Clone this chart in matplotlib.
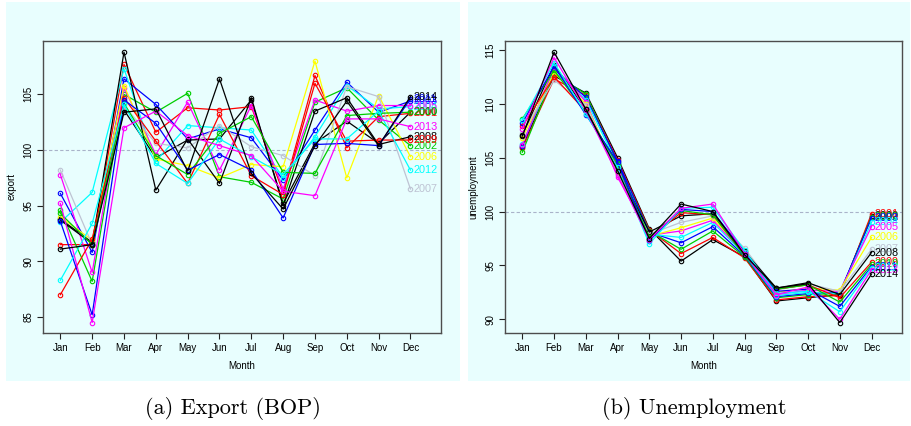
import matplotlib
matplotlib.use("Agg")
import matplotlib.pyplot as plt
from matplotlib.patches import Rectangle

months = ["Jan", "Feb", "Mar", "Apr", "May", "Jun",
          "Jul", "Aug", "Sep", "Oct", "Nov", "Dec"]
years = list(range(2000, 2015))
year_colors = ["black", "red", "#00cd00", "blue", "cyan", "magenta", "yellow",
               "#bec3d3", "black", "red", "#00cd00", "blue", "cyan", "magenta",
               "black"]

# export (BOP) seasonal index, one row per year, Jan..Dec
export = [
    [93.8, 91.7, 103.6, 99.3, 100.9, 101.0, 104.5, 95.2, 100.6, 102.6, 100.6, 103.4],   # 2000
    [91.5, 91.5, 107.7, 101.6, 103.8, 103.6, 103.9, 96.2, 106.7, 100.2, 103.0, 103.3],  # 2001
    [94.6, 88.2, 105.0, 103.4, 105.1, 97.6, 97.1, 95.6, 104.3, 105.6, 102.7, 100.4],    # 2002
    [96.1, 90.8, 106.4, 104.1, 101.0, 101.9, 101.1, 97.3, 101.8, 106.1, 103.4, 104.4],  # 2003
    [93.5, 96.2, 107.3, 99.0, 102.2, 102.0, 101.8, 97.5, 101.2, 105.8, 103.7, 103.9],   # 2004
    [97.8, 89.0, 105.6, 99.6, 104.3, 98.2, 104.0, 96.5, 104.5, 103.5, 104.0, 104.0],    # 2005
    [94.0, 91.9, 105.8, 99.2, 98.6, 97.5, 98.7, 98.5, 108.0, 97.5, 104.9, 99.4],        # 2006
    [98.2, 91.5, 104.0, 100.6, 100.2, 102.2, 100.3, 99.5, 97.7, 105.7, 104.8, 96.5],    # 2007
    [93.7, 91.6, 108.8, 96.4, 101.0, 97.0, 104.7, 95.0, 103.5, 104.7, 100.5, 101.2],    # 2008
    [87.0, 92.0, 104.7, 100.8, 97.0, 103.2, 97.7, 96.0, 106.0, 100.8, 100.9, 100.9],    # 2009
    [94.3, 91.5, 104.2, 99.5, 97.8, 101.5, 103.0, 98.0, 97.9, 103.1, 103.3, 103.4],     # 2010
    [93.6, 85.2, 104.5, 102.4, 98.2, 99.6, 98.2, 93.9, 100.5, 100.6, 100.4, 104.6],     # 2011
    [88.3, 93.4, 104.1, 98.8, 97.0, 101.0, 99.4, 97.8, 101.0, 101.0, 103.5, 98.2],      # 2012
    [95.2, 84.5, 102.0, 103.5, 101.3, 100.4, 99.5, 96.3, 95.9, 102.8, 102.8, 102.1],    # 2013
    [91.1, 91.5, 103.4, 103.7, 98.1, 106.4, 97.9, 94.7, 100.4, 104.4, 100.4, 104.8],    # 2014
]

# unemployment seasonal index, one row per year, Jan..Dec
unemployment = [
    [106.0, 112.6, 111.0, 105.0, 98.4, 95.4, 97.4, 95.8, 91.7, 92.0, 92.3, 99.6],   # 2000
    [105.9, 112.3, 110.8, 104.8, 98.3, 96.1, 97.6, 95.7, 91.8, 92.1, 92.2, 99.8],   # 2001
    [105.5, 112.8, 110.9, 104.5, 98.2, 96.5, 98.2, 95.8, 92.0, 92.3, 92.4, 99.5],   # 2002
    [106.1, 113.2, 110.6, 104.7, 98.1, 97.1, 98.6, 95.9, 92.1, 92.4, 92.5, 99.4],   # 2003
    [106.3, 113.0, 110.4, 104.3, 97.9, 97.6, 99.0, 96.0, 92.2, 92.5, 92.4, 99.0],   # 2004
    [106.2, 113.4, 110.2, 103.2, 97.8, 98.2, 99.2, 96.1, 92.3, 92.7, 92.6, 98.6],   # 2005
    [106.8, 112.9, 110.0, 103.6, 97.7, 98.5, 99.4, 96.2, 92.5, 92.9, 92.7, 97.6],   # 2006
    [107.3, 112.2, 109.9, 103.5, 97.9, 99.0, 99.6, 96.6, 92.7, 93.3, 92.6, 96.5],   # 2007
    [107.1, 113.6, 109.5, 104.0, 98.1, 99.6, 99.8, 96.3, 92.9, 93.4, 92.3, 96.2],   # 2008
    [107.9, 112.5, 109.3, 104.2, 97.5, 99.9, 99.7, 96.0, 92.8, 93.2, 92.0, 95.3],   # 2009
    [108.6, 113.1, 109.2, 104.4, 97.6, 100.1, 99.7, 95.9, 92.8, 93.2, 91.6, 95.1],  # 2010
    [108.2, 113.5, 109.0, 104.6, 97.3, 100.2, 100.0, 96.2, 92.6, 92.8, 91.2, 94.9], # 2011
    [108.5, 113.8, 109.1, 104.1, 97.0, 100.3, 100.4, 96.4, 92.4, 92.6, 90.7, 94.8], # 2012
    [107.7, 114.3, 109.4, 103.4, 97.4, 100.3, 100.7, 96.1, 92.3, 93.0, 90.0, 94.6], # 2013
    [107.0, 114.8, 109.5, 103.8, 97.5, 100.7, 100.0, 96.0, 92.9, 93.3, 89.7, 94.2], # 2014
]

export_yticks = [85, 90, 95, 100, 105]
unemp_yticks = [90, 95, 100, 105, 110, 115]

BG = "#e8fefe"
SPINE = "#4d4d4d"
plt.rcParams["font.family"] = ["Liberation Sans", "DejaVu Sans"]

fig = plt.figure(figsize=(9.12, 4.26), dpi=100)
W, H = 912, 426


def px_rect(x0, y0, x1, y1):
    return [x0 / W, 1 - y1 / H, (x1 - x0) / W, (y1 - y0) / H]


for (x0, x1) in [(6, 460), (468, 910)]:
    r = px_rect(x0, 2, x1, 381)
    fig.patches.append(Rectangle((r[0], r[1]), r[2], r[3], transform=fig.transFigure,
                                 facecolor=BG, edgecolor="none", zorder=-5))


def season_panel(ax, data, ylabel, yticks, ylim):
    ax.set_facecolor(BG)
    x = range(1, 13)
    for yr, vals, col in zip(years, data, year_colors):
        ax.plot(x, vals, color=col, lw=0.9, marker="o", ms=3.2, mfc="none",
                mew=0.8, zorder=3)
        ax.text(12.1, vals[-1], str(yr), color=col, fontsize=7.8, ha="left",
                va="center", zorder=4)
    ax.axhline(100, color="#a9b3c9", lw=0.8, ls=(0, (3, 2)), zorder=1)
    ax.set_xlim(0.455, 12.96)
    ax.set_ylim(*ylim)
    ax.set_xticks(list(x))
    ax.set_xticklabels(months, fontsize=7)
    ax.set_yticks(yticks)
    ax.set_yticklabels([str(t) for t in yticks], fontsize=7, rotation=90,
                       va="center")
    ax.tick_params(length=4, width=0.8, color="#222222", pad=3)
    ax.set_xlabel("Month", fontsize=7, labelpad=6)
    ax.set_ylabel(ylabel, fontsize=7, labelpad=5)
    for s in ax.spines.values():
        s.set_color(SPINE)
        s.set_linewidth(1.0)


ax1 = fig.add_axes(px_rect(43, 41, 441, 333))
season_panel(ax1, export, "export", export_yticks, (83.56, 109.8))
ax2 = fig.add_axes(px_rect(505, 41, 902, 333))
season_panel(ax2, unemployment, "unemployment", unemp_yticks, (88.73, 115.83))

fig.text(233 / W, 1 - 409 / H, "(a) Export (BOP)", family="cmr10", fontsize=16,
         ha="center", va="center")
fig.text(694 / W, 1 - 409 / H, "(b) Unemployment", family="cmr10", fontsize=16,
         ha="center", va="center")

fig.savefig("out.png", dpi=100)
